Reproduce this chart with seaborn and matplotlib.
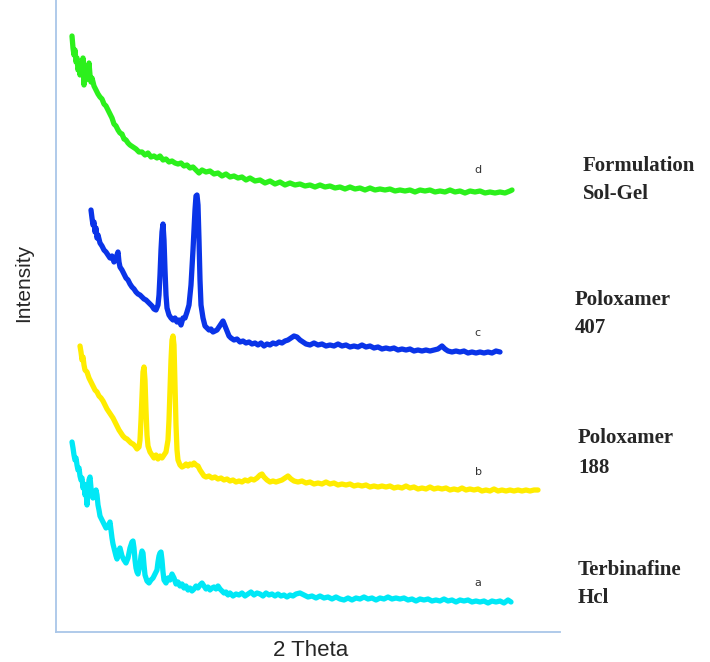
import matplotlib
matplotlib.use("Agg")
import matplotlib.pyplot as plt
import seaborn as sns

# ---- data (x position along 2-theta axis, intensity in arbitrary units) ----
x_d = [72,73,74,75,76,77,78,79,80,81,82,83,84,85,86,87,88,89,90,91,92,94,96,98,100,102,104,106,108,110,
       112,114,116,118,120,122,124,126,128,130,133,136,139,142,145,148,151,154,157,160,163,166,169,172,175,
       178,181,184,187,190,193,196,199,202,206,210,214,218,222,226,230,234,238,242,246,250,255,260,265,270,
       275,280,285,290,295,300,305,310,315,320,325,330,335,340,345,350,355,360,365,370,375,380,385,390,395,
       400,405,410,415,420,425,430,435,440,445,450,455,460,465,470,475,480,485,490,495,500,505,510,512]
y_d = [596,584,577,582,570,574,562,566,557,568,560,574,547,560,552,564,554,569,557,550,554,546,542,538,535,
       533,528,526,522,518,514,508,506,502,499,498,493,492,489,487,485,483,480,480,477,479,475,476,474,476,
       472,473,470,471,469,468,469,466,467,464,465,462,459,462,460,461,458,459,456,458,455,456,454,455,452,
       454,451,452,449,451,448,450,447,449,447,448,446,447,445,447,445,446,444,445,443,445,443,444,442,444,
       442,443,442,443,441,442,441,442,440,442,441,442,440,441,440,442,440,441,439,441,440,441,439,440,439,
       440,439,441,442]

x_c = [91,92,93,94,95,96,97,98,100,102,104,106,108,110,112,114,116,118,119,120,122,124,126,128,130,132,134,
       136,138,140,142,144,146,148,150,152,154,156,158,159,160,161,162,163,164,165,166,167,169,171,173,175,
       177,179,181,183,185,187,189,191,193,195,196,197,198,199,200,201,203,205,207,209,211,213,215,217,219,
       221,223,225,227,229,231,234,237,240,243,246,249,252,255,258,261,264,267,270,273,276,279,282,285,288,
       291,294,297,300,303,306,310,314,318,322,326,330,334,338,342,346,350,354,358,362,366,370,374,378,382,
       386,390,394,398,402,406,410,414,418,422,426,430,434,438,442,445,448,452,456,460,464,468,472,476,480,
       484,488,492,496,500]
y_c = [422,414,407,410,400,404,394,397,389,386,382,380,377,374,376,370,374,380,370,365,362,358,354,352,348,
       345,343,340,338,337,335,333,332,330,328,326,323,322,327,337,357,382,400,408,392,362,337,324,317,314,
       312,314,310,312,307,314,314,320,327,347,382,422,436,437,427,392,352,327,314,306,304,302,303,300,301,
       302,305,308,311,306,301,296,294,292,293,290,291,289,290,288,289,287,289,286,288,287,289,288,290,289,
       291,292,294,296,295,292,290,288,287,289,287,288,286,287,286,288,286,287,285,286,285,287,285,286,284,
       285,283,284,283,284,282,283,282,283,281,282,281,282,281,282,283,286,283,281,280,281,280,281,279,280,
       279,280,279,280,279,281,280]

x_b = [80,81,82,83,84,85,87,89,91,93,95,97,99,101,103,105,107,109,111,113,115,117,119,121,123,125,127,129,
       131,133,135,137,139,140,141,142,143,144,145,146,147,148,150,152,154,156,158,160,162,164,166,168,169,
       170,171,172,173,174,175,176,177,178,180,182,184,186,188,190,192,194,196,198,200,202,204,206,209,212,
       215,218,221,224,227,230,233,236,239,242,245,248,251,254,257,260,262,264,267,270,273,276,279,282,285,
       288,291,294,298,302,306,310,314,318,322,326,330,334,338,342,346,350,354,358,362,366,370,374,378,382,
       386,390,394,398,402,406,410,414,418,422,426,430,434,438,442,446,450,454,458,462,466,470,474,478,482,
       486,490,494,498,502,506,510,514,518,522,526,530,534,538]
y_b = [286,280,272,275,267,262,260,254,250,246,242,240,236,234,231,227,223,220,217,214,210,206,202,199,196,
       194,193,191,189,188,186,183,185,192,212,237,260,265,252,222,197,186,180,177,174,177,173,176,174,177,
       180,192,212,242,272,292,296,287,247,207,182,172,167,165,166,168,166,168,167,169,167,166,162,159,156,
       155,156,154,155,153,154,152,153,151,152,150,151,150,152,151,153,152,154,157,158,155,152,150,151,150,
       151,152,154,156,153,151,150,151,149,150,148,149,148,150,148,149,147,148,147,148,146,147,146,147,145,
       146,145,146,145,146,144,145,144,146,144,145,143,144,143,145,143,144,143,144,142,143,142,144,142,143,
       142,143,141,142,141,143,141,142,141,142,141,142,141,142,141,142,142]

x_a = [72,73,74,75,76,77,78,79,80,81,82,83,84,85,86,87,88,89,90,91,92,93,94,95,96,97,98,99,100,102,104,106,
       108,110,111,112,113,114,115,116,117,118,119,120,121,122,124,126,128,130,132,133,134,135,136,137,138,
       140,141,142,143,144,145,147,149,151,153,155,157,158,159,160,161,162,163,164,166,168,170,172,174,176,
       178,180,182,184,186,188,190,192,194,196,198,200,202,204,206,208,210,212,214,216,218,220,222,224,226,
       228,230,233,236,239,242,245,248,251,254,257,260,263,266,269,272,275,278,281,284,287,290,293,296,300,
       304,308,312,316,320,324,328,332,336,340,344,348,352,356,360,364,368,372,376,380,384,388,392,396,400,
       404,408,412,416,420,424,428,432,436,440,444,448,452,456,460,464,468,472,476,480,484,488,492,496,500,
       504,508,511]
y_a = [190,184,177,172,174,167,162,164,156,152,154,144,148,137,142,127,140,152,155,144,137,134,140,135,142,
       137,127,122,116,112,108,104,106,110,102,94,88,84,80,76,73,76,82,84,80,76,72,69,74,84,90,91,84,72,64,
       60,58,67,76,81,79,67,57,51,49,52,54,58,62,70,76,79,80,72,60,52,49,54,52,58,54,48,50,46,48,44,46,42,
       44,41,43,46,44,47,49,46,43,45,42,44,45,43,46,43,41,39,40,37,39,36,38,37,39,36,38,40,37,39,38,36,39,
       37,38,36,38,36,37,35,37,36,38,39,37,35,36,34,36,34,35,33,35,33,32,34,32,34,33,35,33,34,32,34,33,35,
       33,34,33,34,32,33,31,33,32,33,31,32,31,33,31,32,30,32,31,32,30,31,30,31,29,31,30,31,29,32,30]

series_names = ["d", "c", "b", "a"]
series_labels = [["Formulation", "Sol-Gel"], ["Poloxamer", "407"],
                 ["Poloxamer", "188"], ["Terbinafine", "Hcl"]]
series_colors = ["#2cf01c", "#0a34e8", "#ffec00", "#00e8f6"]

# ---- figure ----
sns.set_style("white")
W, H = 710, 662
fig = plt.figure(figsize=(W / 100, H / 100), dpi=100)
ax = fig.add_axes([56 / W, 30 / H, 504 / W, 632 / H])

for xs, ys, col in zip([x_d, x_c, x_b, x_a], [y_d, y_c, y_b, y_a], series_colors):
    sns.lineplot(x=xs, y=ys, ax=ax, color=col, linewidth=3.8, estimator=None, sort=False)

ax.set_xlim(56, 560)
ax.set_ylim(0, 632)
ax.set_xticks([])
ax.set_yticks([])
ax.set_xlabel("")
ax.set_ylabel("")
for s in ["top", "right"]:
    ax.spines[s].set_visible(False)
for s in ["left", "bottom"]:
    ax.spines[s].set_color("#a9c6e8")
    ax.spines[s].set_linewidth(1.3)

# small letters near the curve ends
letter_pos = [(478, 462), (477, 299), (478, 160), (478, 49)]
for name, (lx, ly) in zip(series_names, letter_pos):
    ax.text(lx, ly, name, fontsize=8, color="#333333", ha="center", va="center",
            family="DejaVu Sans")

# right-side sample names
label_rows = [(583, 166, 194), (575, 300, 328), (578, 438, 468), (578, 570, 598)]
for (l1, l2), (lx, y1, y2) in zip(series_labels, label_rows):
    fig.text(lx / W, 1 - y1 / H, l1, fontsize=15, fontweight="bold",
             family="Liberation Serif", ha="left", va="center")
    fig.text(lx / W, 1 - y2 / H, l2, fontsize=15, fontweight="bold",
             family="Liberation Serif", ha="left", va="center")

fig.text(24 / W, 1 - 283 / H, "Intensity", rotation=90, fontsize=15,
         family="Liberation Sans", ha="center", va="center")
fig.text(311 / W, 1 - 651 / H, "2 Theta", fontsize=16,
         family="Liberation Sans", ha="center", va="center")

fig.savefig("out.png", dpi=100)
